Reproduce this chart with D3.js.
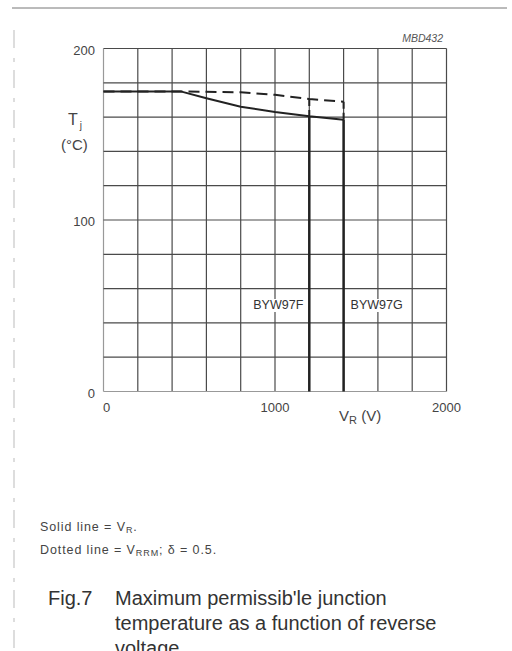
<!DOCTYPE html>
<html><head><meta charset="utf-8">
<script src="https://cdnjs.cloudflare.com/ajax/libs/d3/7.8.5/d3.min.js"></script>
<style>html,body{margin:0;padding:0;background:#fff;}svg{display:block;font-family:"Liberation Sans",Arial,sans-serif;}</style>
</head><body>
<script>
const xTicks = [0, 1000, 2000];
const yTicks = [0, 100, 200];
const solidV = [0, 450, 600, 800, 1000, 1200, 1400];
const solidT = [175, 175, 171, 166, 163, 160.5, 158.5];
const dashedV = [0, 450, 800, 1000, 1200, 1400];
const dashedT = [175, 175, 174.5, 173, 170.5, 169];
const devices = ["BYW97F", "BYW97G"];
const deviceV = [1200, 1400];
const notes = ["Solid line = V", "Dotted line = V"];
const captionLines = ["Maximum permissib'le junction", "temperature as a function of reverse", "voltage"];

const W = 512, H = 651;
const svg = d3.select("body").append("svg").attr("width", W).attr("height", H);

const x = d3.scaleLinear().domain([0, 2000]).range([103.5, 446.5]);
const y = d3.scaleLinear().domain([0, 200]).range([391.5, 48.5]);

// page decorations (scan artifacts)
svg.append("line").attr("x1", 12).attr("x2", 507).attr("y1", 8).attr("y2", 8)
  .attr("stroke", "#777").attr("stroke-width", 1);
svg.append("line").attr("x1", 14).attr("x2", 14).attr("y1", 30).attr("y2", 651)
  .attr("stroke", "#bbb").attr("stroke-width", 1).attr("stroke-dasharray", "18 10 4 8");

// grid
const g = svg.append("g");
g.selectAll(".vg").data(d3.range(0, 2001, 200)).join("line")
  .attr("x1", d => x(d)).attr("x2", d => x(d)).attr("y1", y(0)).attr("y2", y(200))
  .attr("stroke", (d) => (d === 0) ? "#999" : "#4a4a4a").attr("stroke-width", 1.2);
g.selectAll(".hg").data(d3.range(0, 201, 20)).join("line")
  .attr("x1", x(0)).attr("x2", x(2000)).attr("y1", d => y(d)).attr("y2", d => y(d))
  .attr("stroke", d => d === 0 ? "#999" : "#4a4a4a").attr("stroke-width", 1.2);

// tick labels
svg.selectAll(".yt").data(yTicks).join("text")
  .attr("x", 95).attr("y", d => y(d) + 6).attr("text-anchor", "end")
  .attr("font-size", 13).attr("fill", "#444").text(d => d);
svg.selectAll(".xt").data(xTicks).join("text")
  .attr("x", d => x(d) + (d === 0 ? 3 : 0)).attr("y", 412).attr("text-anchor", "middle")
  .attr("font-size", 13).attr("fill", "#444").text(d => d);

// axis titles
const vt = svg.append("text").attr("x", 339).attr("y", 421).attr("font-size", 15).attr("fill", "#444");
vt.append("tspan").text("V");
vt.append("tspan").attr("font-size", 11).attr("dy", 3).text("R");
vt.append("tspan").attr("dy", -3).text(" (V)");
const tt = svg.append("text").attr("x", 68).attr("y", 125).attr("font-size", 16).attr("fill", "#444");
tt.append("tspan").text("T");
tt.append("tspan").attr("font-size", 10).attr("dx", 2).attr("dy", 4).text("j");
svg.append("text").attr("x", 61).attr("y", 150).attr("font-size", 15).attr("fill", "#444").text("(°C)");

svg.append("text").attr("x", 443).attr("y", 42).attr("text-anchor", "end")
  .attr("font-size", 10.5).attr("font-style", "italic").attr("fill", "#555").text("MBD432");

// curves
const line = d3.line().x(d => x(d[0])).y(d => y(d[1]));
svg.append("path").datum(d3.zip(dashedV, dashedT)).attr("d", line)
  .attr("fill", "none").attr("stroke", "#222").attr("stroke-width", 2).attr("stroke-dasharray", "11 6");
svg.append("path").datum(d3.zip(solidV, solidT)).attr("d", line)
  .attr("fill", "none").attr("stroke", "#222").attr("stroke-width", 2);

deviceV.forEach((v, i) => {
  const ts = solidT[solidV.indexOf(v)];
  const td = dashedT[dashedV.indexOf(v)];
  svg.append("line").attr("x1", x(v)).attr("x2", x(v)).attr("y1", y(td)).attr("y2", y(ts))
    .attr("stroke", "#222").attr("stroke-width", 2).attr("stroke-dasharray", "7 4");
  svg.append("line").attr("x1", x(v)).attr("x2", x(v)).attr("y1", y(ts)).attr("y2", y(0))
    .attr("stroke", "#222").attr("stroke-width", 2.5);
});

// device labels with white backing
const dl = svg.selectAll(".dl").data(devices).join("g");
const dlt = dl.append("text")
  .attr("x", (d, i) => i === 0 ? x(deviceV[i]) - 6 : x(deviceV[i]) + 7).attr("y", 309)
  .attr("text-anchor", (d, i) => i === 0 ? "end" : "start")
  .attr("font-size", 12.5).attr("fill", "#333").text(d => d);
dlt.each(function() {
  const b = this.getBBox();
  d3.select(this.parentNode).insert("rect", "text")
    .attr("x", b.x - 1).attr("y", b.y + 1).attr("width", b.width + 2).attr("height", b.height - 1)
    .attr("fill", "#fff");
});

// notes
const n1 = svg.append("text").attr("x", 40).attr("y", 531).attr("font-size", 12.5)
  .attr("letter-spacing", 0.9).attr("fill", "#444");
n1.append("tspan").text(notes[0]);
n1.append("tspan").attr("font-size", 9).attr("dy", 2).text("R");
n1.append("tspan").attr("dy", -2).text(".");
const n2 = svg.append("text").attr("x", 40).attr("y", 554).attr("font-size", 12.5)
  .attr("letter-spacing", 0.9).attr("fill", "#444");
n2.append("tspan").text(notes[1]);
n2.append("tspan").attr("font-size", 9).attr("dy", 2).text("RRM");
n2.append("tspan").attr("dy", -2).text("; δ = 0.5.");

// caption
svg.append("text").attr("x", 48).attr("y", 605).attr("font-size", 20).attr("fill", "#333").text("Fig.7");
svg.selectAll(".cap").data(captionLines).join("text")
  .attr("x", 115).attr("y", (d, i) => 605 + i * 25)
  .attr("font-size", 20).attr("fill", "#333").text(d => d);
</script>
</body></html>
